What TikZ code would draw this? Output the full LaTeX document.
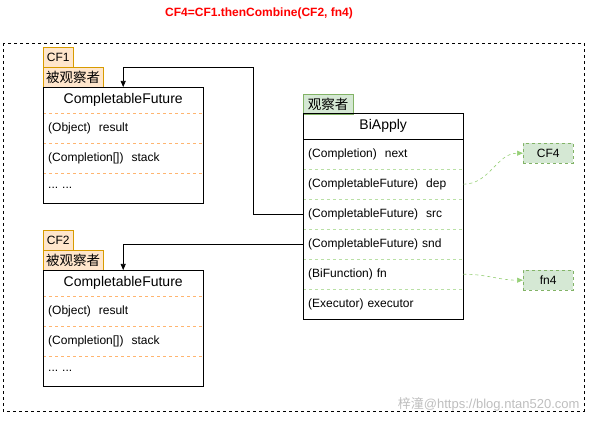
\documentclass[tikz,border=0pt]{standalone}
\usepackage{fontspec}
\setmainfont{Liberation Sans}
\newfontfamily\cjk{Noto Sans CJK SC}
\usetikzlibrary{arrows.meta, positioning}
\definecolor{tagorange}{HTML}{FFE6CC}
\definecolor{lineorange}{HTML}{D79B00}
\definecolor{seporange}{HTML}{FFB570}
\definecolor{taggreen}{HTML}{D5E8D4}
\definecolor{linegreen}{HTML}{82B366}
\definecolor{sepgreen}{HTML}{B9E0A5}
\definecolor{arrgreen}{HTML}{97D077}
\definecolor{marktext}{HTML}{BEBEBE}
\newcommand\moredots{.\kern0pt.\kern0pt.\ .\kern0pt.\kern0pt.}
\tikzset{
  tag/.style={draw, anchor=north west, inner sep=0pt, minimum height=20pt,
    font=\fontsize{12}{14}\selectfont},
  orgtag/.style={tag, fill=tagorange, draw=lineorange},
  grntag/.style={tag, fill=taggreen, draw=linegreen},
  cjktag/.style={font=\cjk\fontsize{13.5}{15}\selectfont},
  head/.style={anchor=north west, minimum width=160pt, minimum height=26pt,
    inner sep=0pt, font=\fontsize{14}{16}\selectfont},
  field/.style={anchor=north west, minimum width=160pt, minimum height=30pt,
    inner sep=0pt, text width=150pt, align=left, font=\fontsize{12}{14}\selectfont},
  outbox/.style={draw=linegreen, dashed, fill=taggreen, minimum width=50pt,
    minimum height=20pt, inner sep=0pt, anchor=north west,
    font=\fontsize{12}{14}\selectfont},
  sepo/.style={draw=seporange, dashed},
  sepg/.style={draw=sepgreen, dashed},
  arr/.style={-{Triangle[length=6pt,width=5pt]}, semithick},
  garr/.style={-{Triangle[length=6pt,width=5pt]}, draw=arrgreen, dashed, semithick}
}
\begin{document}
\begin{tikzpicture}[x=1pt, y=-1pt]
  \useasboundingbox (0,0) rectangle (592,422);

  \node[text=red, font=\bfseries\fontsize{12}{14}\selectfont] (title) at (259,13)
       {CF4=CF1.thenCombine(CF2, fn4)};
  \draw[dashed] (3,43) rectangle (584,411);

  %% CF1
  \node[orgtag, minimum width=30pt] (cfatag) at (43,47) {CF1};
  \node[orgtag, cjktag, minimum width=60pt] (cfaobs) at (43,67) {被观察者};
  \node[head] (cfa) at (43,87) {CompletableFuture};
  \foreach \t [count=\i] in {{(Object)\ \ result},{(Completion[])\ \ stack},{\moredots}}
    \node[field] (cfa\i) at (43,{113+30*(\i-1)}) {\t};
  \foreach \i in {1,2,3}
    \draw[sepo] (cfa\i.north west) -- (cfa\i.north east);
  \draw (cfa.north west) rectangle (cfa3.south east);

  %% CF2
  \node[orgtag, minimum width=30pt] (cfbtag) at (43,230) {CF2};
  \node[orgtag, cjktag, minimum width=60pt] (cfbobs) at (43,250) {被观察者};
  \node[head] (cfb) at (43,270) {CompletableFuture};
  \foreach \t [count=\i] in {{(Object)\ \ result},{(Completion[])\ \ stack},{\moredots}}
    \node[field] (cfb\i) at (43,{296+30*(\i-1)}) {\t};
  \foreach \i in {1,2,3}
    \draw[sepo] (cfb\i.north west) -- (cfb\i.north east);
  \draw (cfb.north west) rectangle (cfb3.south east);

  %% BiApply
  \node[grntag, cjktag, minimum width=50pt] (biobs) at (303,94) {观察者};
  \node[head] (bi) at (303,113) {BiApply};
  \foreach \t [count=\i] in {{(Completion)\ \ next},{(CompletableFuture)\ \ dep},
      {(CompletableFuture)\ \ src},{(CompletableFuture) snd},{(BiFunction) fn},{(Executor) executor}}
    \node[field] (bi\i) at (303,{139+30*(\i-1)}) {\t};
  \foreach \i in {2,3,4,5,6}
    \draw[sepg] (bi\i.north west) -- (bi\i.north east);
  \draw (bi1.north west) -- (bi1.north east);
  \draw (bi.north west) rectangle (bi6.south east);

  %% results
  \node[outbox] (cfd) at (523,143) {CF4};
  \node[outbox] (fnd) at (523,270) {fn4};

  %% connectors
  \draw[arr] (bi3.west) -| (253,67) -| (cfa.north);
  \draw[arr] (bi4.west) -| (cfb.north);
  \draw[garr] (bi2.east) to[out=0, in=180] (cfd.west);
  \draw[garr] (bi5.east) to[out=0, in=180] (fnd.west);

  \node[text=marktext, font=\fontsize{13}{15}\selectfont, anchor=east] (mark) at (583,404)
       {{\cjk 梓潼}@https://blog.ntan520.com};
\end{tikzpicture}
\end{document}
